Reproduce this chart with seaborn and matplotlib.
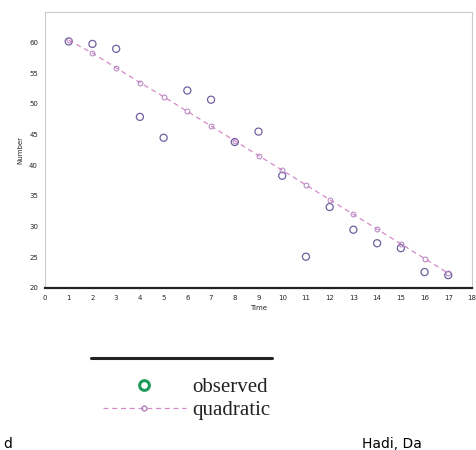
import numpy as np
import pandas as pd
import seaborn as sns
import matplotlib
matplotlib.use("Agg")
import matplotlib.pyplot as plt
from matplotlib.lines import Line2D

time = list(range(1, 18))
observed = [60.2, 59.8, 59.0, 47.9, 44.5, 52.2, 50.7, 43.8, 45.5, 38.3,
            25.1, 33.2, 29.5, 27.3, 26.5, 22.6, 22.1]
quadratic = [60.4, 58.3, 55.9, 53.5, 51.2, 48.8, 46.4, 44.0, 41.6, 39.2,
             36.8, 34.4, 32.0, 29.6, 27.2, 24.8, 22.4]
x_ticks = list(range(0, 19))
y_ticks = [20, 25, 30, 35, 40, 45, 50, 55, 60, 65]
y_tick_labels = ["20", "25", "30", "35", "40", "45", "50", "55", "60", ""]
legend_labels = ["observed", "quadratic"]

df = pd.DataFrame({"Time": time, "observed": observed, "quadratic": quadratic})

sns.set_style("white")
fig = plt.figure(figsize=(4.76, 4.5), dpi=100)
ax = fig.add_axes([45 / 476, 1 - 288 / 450, (472 - 45) / 476, (288 - 12) / 450])

sns.lineplot(data=df, x="Time", y="quadratic", ax=ax, color="#d58ac8", lw=0.9,
             linestyle=(0, (4, 3)), marker="o", markersize=3.5,
             markerfacecolor="none", markeredgecolor="#b080c0", markeredgewidth=0.7)
sns.scatterplot(data=df, x="Time", y="observed", ax=ax, s=26, marker="o",
                facecolors="none", edgecolor="#7060a0", linewidth=0.9)

ax.set_xlim(0, 18)
ax.set_ylim(20, 65)
ax.set_xticks(x_ticks)
ax.set_xticklabels([str(t) for t in x_ticks], fontsize=5)
ax.set_yticks(y_ticks)
ax.set_yticklabels(y_tick_labels, fontsize=5)
ax.tick_params(axis="both", length=3, width=0.8, color="#444444", pad=2)
ax.set_xlabel("Time", fontsize=5, labelpad=3)
ax.set_ylabel("Number", fontsize=5, labelpad=4)
for s in ["top", "right", "left"]:
    ax.spines[s].set_color("#cccccc")
    ax.spines[s].set_linewidth(0.8)
ax.spines["bottom"].set_color("#222222")
ax.spines["bottom"].set_linewidth(1.6)

# legend panel
fig.add_artist(Line2D([91 / 476, 272 / 476], [1 - 358 / 450, 1 - 358 / 450],
                      color="#222222", lw=2.2))
handles = [
    Line2D([], [], linestyle="none", marker="o", markersize=7, markerfacecolor="none",
           markeredgecolor="#1f9a5a", markeredgewidth=2.2),
    Line2D([], [], color="#d58ac8", lw=0.9, linestyle=(0, (4, 3)), marker="o",
           markersize=3.5, markerfacecolor="none", markeredgecolor="#b080c0"),
]
leg = fig.legend(handles, legend_labels, loc="upper left",
                 bbox_to_anchor=(88 / 476, 1 - 363 / 450), frameon=False,
                 prop={"family": "Liberation Serif", "size": 15},
                 handlelength=4.0, handletextpad=0.3, labelspacing=0.15,
                 borderpad=0.2, markerfirst=True)
for t in leg.get_texts():
    t.set_color("#222222")

fig.text(3 / 476, 1 - 437 / 450, "d", fontsize=10, va="top", ha="left", color="black")
fig.text(362 / 476, 1 - 437 / 450, "Hadi, Da", fontsize=10, va="top", ha="left", color="black")

fig.savefig("out.png", dpi=100)
